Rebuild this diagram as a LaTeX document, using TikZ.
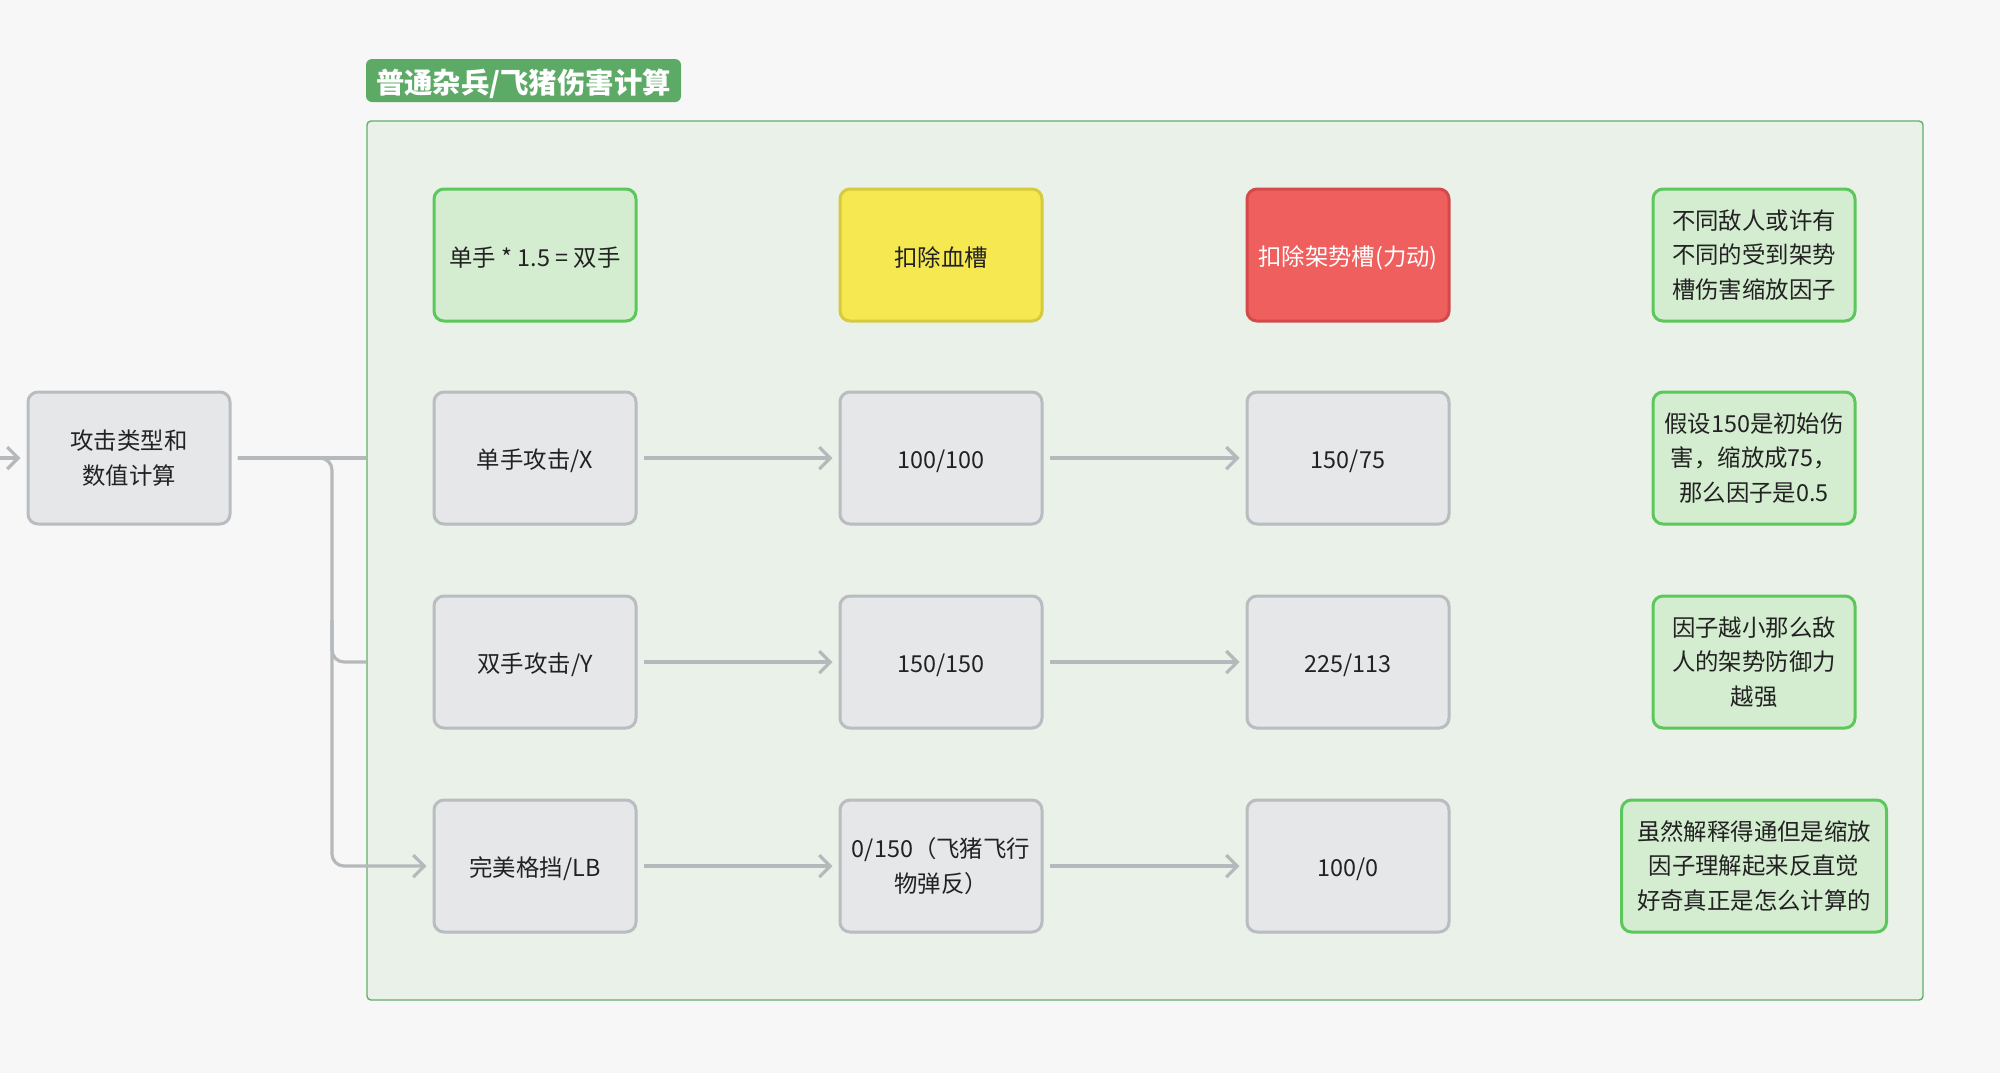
\documentclass[tikz,border=0pt]{standalone}
\usepackage{fontspec}
\setmainfont{Noto Sans CJK SC}
\usetikzlibrary{arrows.meta}
\definecolor{bgc}{HTML}{F7F7F7}
\definecolor{contfill}{HTML}{E9F1E8}
\definecolor{contline}{HTML}{62AF68}
\definecolor{titlefill}{HTML}{5DAA67}
\definecolor{grayfill}{HTML}{E6E7E9}
\definecolor{grayline}{HTML}{B9BCC0}
\definecolor{notefill}{HTML}{D4EDD0}
\definecolor{noteline}{HTML}{5CC75A}
\definecolor{yelfill}{HTML}{F5E851}
\definecolor{yelline}{HTML}{D6CA3E}
\definecolor{redfill}{HTML}{EF5F5E}
\definecolor{redline}{HTML}{D44A4A}
\definecolor{connc}{HTML}{B6B9BC}
\definecolor{txt}{HTML}{222222}
\begin{document}
\begin{tikzpicture}[x=0.5pt,y=-0.5pt,
  boxbase/.style={rounded corners=5pt, minimum width=101pt, minimum height=66pt,
    line width=1.5pt, align=center, inner sep=0pt, text=txt,
    font=\fontsize{11.7pt}{17.2pt}\selectfont,
    execute at begin node={\rule{0pt}{12.6pt}}},
  multi/.style={execute at begin node={\rule{0pt}{15.2pt}}},
  graybox/.style={boxbase, fill=grayfill, draw=grayline},
  notebox/.style={boxbase, fill=notefill, draw=noteline},
  yelbox/.style={boxbase, fill=yelfill, draw=yelline},
  redbox/.style={boxbase, fill=redfill, draw=redline, text=white},
  conn/.style={draw=connc, line width=1.6pt},
  arr/.style={conn, -{Straight Barb[length=5.5pt,width=11pt,line width=1.6pt]}},
]
\fill[bgc] (0,0) rectangle (2000,1073);
\useasboundingbox (0,0) rectangle (2000,1073);

% container and title
\node[draw=contline, fill=contfill, line width=0.7pt, rounded corners=2pt,
  minimum width=778pt, minimum height=439.5pt, inner sep=0pt] (cont) at (1145,560.5) {};
\node[fill=titlefill, rounded corners=3pt, minimum width=157.5pt, minimum height=21.5pt,
  inner sep=0pt, text=white, text height=14pt, text depth=1.5pt,
  font=\fontsize{14.2pt}{16pt}\selectfont\bfseries] (title) at (523.5,80.5) {普通杂兵/飞猪伤害计算};

% left node
\node[graybox, multi] (src) at (129,458) {攻击类型和\\数值计算};
\coordinate (inL) at (0,458);

% row 1
\node[notebox] (h1) at (535,255) {单手 * 1.5 = 双手};
\node[yelbox] (h2) at (941,255) {扣除血槽};
\node[redbox] (h3) at (1348,255) {扣除架势槽(力动)};
\node[notebox, multi] (n1) at (1754,255) {不同敌人或许有\\不同的受到架势\\槽伤害缩放因子};

% row 2
\node[graybox] (a1) at (535,458) {单手攻击/X};
\node[graybox] (a2) at (941,458) {100/100};
\node[graybox] (a3) at (1348,458) {150/75};
\node[notebox, multi] (n2) at (1754,458) {假设150是初始伤\\害，缩放成75，\\那么因子是0.5};

% row 3
\node[graybox] (b1) at (535,662) {双手攻击/Y};
\node[graybox] (b2) at (941,662) {150/150};
\node[graybox] (b3) at (1348,662) {225/113};
\node[notebox, multi] (n3) at (1754,662) {因子越小那么敌\\人的架势防御力\\越强};

% row 4
\node[graybox] (c1) at (535,866) {完美格挡/LB};
\node[graybox, multi] (c2) at (941,866) {0/150（飞猪飞行\\物弹反）};
\node[graybox] (c3) at (1348,866) {100/0};
\node[notebox, multi, minimum width=132.5pt] (n4) at (1754,866) {虽然解释得通但是缩放\\因子理解起来反直觉\\好奇真正是怎么计算的};

% connectors
\draw[arr] (inL) -- ([xshift=-3pt]src.west);
\coordinate (s0) at ([xshift=3pt]src.east);
\draw[conn] (s0) -- (src.east -| cont.west);
\draw[arr, rounded corners=6pt] (s0) -- (332,458) -- (332,866) -- ([xshift=-3pt]c1.west);
\draw[conn, rounded corners=6pt] (332,620) -- (332,662) -- (b1.west -| cont.west);

\foreach \r in {a,b,c}{
  \draw[arr] ([xshift=3pt]\r1.east) -- ([xshift=-3pt]\r2.west);
  \draw[arr] ([xshift=3pt]\r2.east) -- ([xshift=-3pt]\r3.west);
}
\end{tikzpicture}
\end{document}
